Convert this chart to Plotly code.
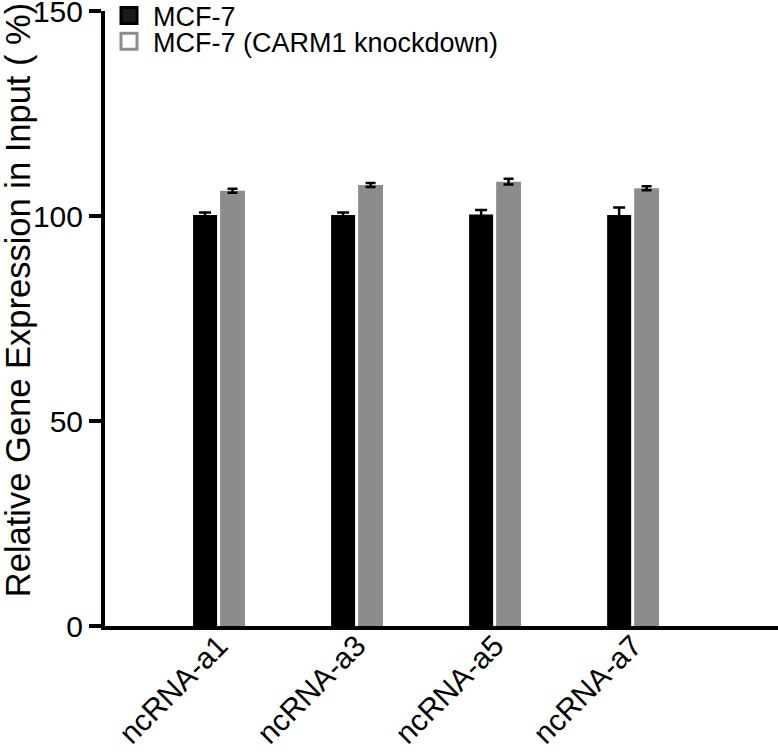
import plotly.graph_objects as go

categories = ["ncRNA-a1", "ncRNA-a3", "ncRNA-a5", "ncRNA-a7"]
series_names = ["MCF-7", "MCF-7 (CARM1 knockdown)"]
mcf7_values = [100.3, 100.3, 100.4, 100.3]
mcf7_errors = [0.6, 0.6, 1.1, 1.8]
kd_values = [106.2, 107.6, 108.4, 106.8]
kd_errors = [0.5, 0.5, 0.7, 0.5]
y_ticks = [0, 50, 100, 150]
y_title = "Relative Gene Expression in Input ( %)"

FONT = "Liberation Sans, Arial, Helvetica, sans-serif"
BLACK = "#000000"
GRAY = "#8c8c8c"

fig = go.Figure()

fig.add_trace(
    go.Bar(
        x=categories,
        y=mcf7_values,
        width=0.174,
        offset=-0.188,
        marker=dict(color=BLACK, line=dict(width=0)),
        error_y=dict(type="data", array=mcf7_errors, color=BLACK, thickness=2.5, width=6),
        showlegend=False,
    )
)
fig.add_trace(
    go.Bar(
        x=categories,
        y=kd_values,
        width=0.18,
        offset=0.008,
        marker=dict(color=GRAY, line=dict(width=0)),
        error_y=dict(type="data", array=kd_errors, color=BLACK, thickness=2.5, width=5),
        showlegend=False,
    )
)

# legend entries drawn as outlined boxes, one legend per row so the rows sit close
legend_fill = ["#1a1a1a", "#ffffff"]
legend_line = [BLACK, GRAY]
legend_ids = ["legend", "legend2"]
for name, fill, line, lg in zip(series_names, legend_fill, legend_line, legend_ids):
    fig.add_trace(
        go.Scatter(
            x=[None],
            y=[None],
            mode="markers",
            name=name,
            legend=lg,
            marker=dict(symbol="square", size=16, color=fill, line=dict(color=line, width=3)),
        )
    )

legend_style = dict(
    x=0.0,
    xanchor="left",
    yanchor="middle",
    font=dict(size=27, family=FONT),
    bgcolor="rgba(0,0,0,0)",
    itemwidth=38,
)

fig.update_layout(
    width=778,
    height=755,
    margin=dict(l=105, r=0, t=11, b=128.5, autoexpand=False),
    paper_bgcolor="white",
    plot_bgcolor="white",
    barmode="overlay",
    font=dict(family=FONT, color="black", size=24),
    legend=dict(y=0.992, **legend_style),
    legend2=dict(y=0.95, **legend_style),
    xaxis=dict(
        type="category",
        range=[-0.826, 4.05],
        showline=True,
        linecolor="black",
        linewidth=4,
        ticks="",
        showgrid=False,
        zeroline=False,
        tickangle=-45,
        tickfont=dict(size=30, family=FONT),
        ticklabelstandoff=-14,
        automargin=False,
    ),
    yaxis=dict(
        range=[0, 150.05],
        tickvals=y_ticks,
        showline=True,
        linecolor="black",
        linewidth=4,
        ticks="outside",
        ticklen=12,
        tickwidth=4,
        tickcolor="black",
        showgrid=False,
        zeroline=False,
        automargin=False,
        ticklabeloverflow="allow",
        tickfont=dict(size=30, family=FONT),
    ),
    annotations=[
        dict(
            text=y_title,
            xref="paper",
            yref="paper",
            x=-0.13,
            y=0.529,
            xanchor="center",
            yanchor="middle",
            textangle=-90,
            showarrow=False,
            font=dict(size=34.5, family=FONT),
        )
    ],
)

# drop the page's default 8px body margin so the figure fills the window
fig.write_html(
    "out.html",
    config={"displayModeBar": False},
    post_script="document.body.style.margin = '0';",
)
